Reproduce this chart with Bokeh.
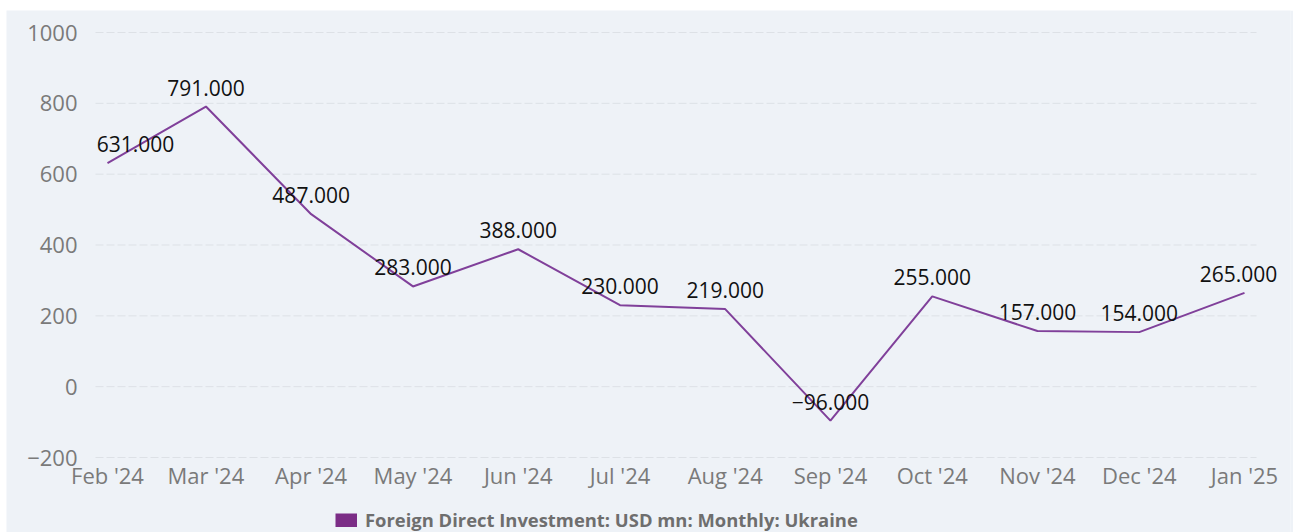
import pandas as pd
from bokeh.plotting import figure
from bokeh.layouts import column, row
from bokeh.models import ColumnDataSource, FixedTicker, Legend, LegendItem, Range1d, Spacer
from bokeh.core.properties import value
from bokeh.embed import file_html
from bokeh.resources import INLINE

months = ["Feb '24", "Mar '24", "Apr '24", "May '24", "Jun '24", "Jul '24",
          "Aug '24", "Sep '24", "Oct '24", "Nov '24", "Dec '24", "Jan '25"]
month_dates = ["2024-02-01", "2024-03-01", "2024-04-01", "2024-05-01", "2024-06-01", "2024-07-01",
               "2024-08-01", "2024-09-01", "2024-10-01", "2024-11-01", "2024-12-01", "2025-01-01"]
fdi = [631, 791, 487, 283, 388, 230, 219, -96, 255, 157, 154, 265]
y_ticks = [-200, 0, 200, 400, 600, 800, 1000]
series_name = "Foreign Direct Investment: USD mn: Monthly: Ukraine"

BG = "#EEF2F7"
LINE = "#80409A"
TICK = "#7a7a7a"

# time axis in days since the first month (months have unequal lengths)
d = pd.to_datetime(month_dates)
xs = [int((t - d[0]).days) for t in d]
labels = [f"{v:.3f}".replace("-", "\u2212") for v in fdi]
# label nudges (styling only): keep edge labels inside chart
x_off = [0] * len(fdi)
x_off[0] = 28
x_off[-1] = -6

src = ColumnDataSource(dict(x=xs, y=fdi, label=labels, xoff=x_off))

y_min, y_max = min(y_ticks), max(y_ticks)
ppd = (1244 - 107) / xs[-1]          # pixels per day
pad = 12 / ppd                        # plot-area padding around first/last point
x_start = xs[0] - 101 / ppd           # frame extends left so axis labels are not clipped
x_end = xs[-1] + 46 / ppd
ppu = 425 / (y_max - y_min)          # pixels per value unit
y_floor = y_min - 75 / ppu            # frame extends below the axis for the legend
y_ceil = y_max + 22 / ppu             # and above the top tick for its label

p = figure(width=1287, height=522, output_backend="svg", toolbar_location=None,
           x_range=Range1d(x_start, x_end),
           y_range=Range1d(y_floor, y_ceil),
           min_border_left=0, min_border_right=3, min_border_top=0, min_border_bottom=0)
p.background_fill_color = BG
p.border_fill_color = BG
p.outline_line_color = None

p.xgrid.visible = False
p.ygrid.visible = False
# horizontal grid lines limited to the plot area
gx0, gx1 = xs[0] - pad, xs[-1] + pad
p.segment(x0=[gx0] * len(y_ticks), x1=[gx1] * len(y_ticks), y0=y_ticks, y1=y_ticks,
          line_color="#dde1e6", line_dash="8 3", line_width=1)

p.yaxis.ticker = FixedTicker(ticks=y_ticks)
p.yaxis.major_label_overrides = {t: (str(t).replace("-", "\u2212")) for t in y_ticks}
p.yaxis.fixed_location = gx0
p.xaxis.ticker = FixedTicker(ticks=xs)
p.xaxis.major_label_overrides = {x: m for x, m in zip(xs, months)}
p.xaxis.fixed_location = y_min

for ax in (p.xaxis[0], p.yaxis[0]):
    ax.axis_line_color = None
    ax.major_tick_line_color = None
    ax.minor_tick_line_color = None
    ax.major_label_text_font = "Open Sans"
    ax.major_label_text_font_size = "22px"
    ax.major_label_text_color = TICK
p.xaxis.major_label_standoff = -4
p.yaxis.major_label_standoff = 12

line = p.line("x", "y", source=src, line_color=LINE, line_width=2)

p.text("x", "y", text="label", source=src, x_offset="xoff", y_offset=-19,
       text_align="center", text_baseline="middle",
       text_font=value("Open Sans"), text_font_size="21px", text_color="#111111")

# legend swatch: hidden renderer drawn only as a square in the legend
swatch = p.line("x", "y", source=src, line_color="#7B2D86", line_width=14, visible=False)

legend = Legend(items=[LegendItem(label=series_name, renderers=[swatch])],
                location=(329, 0), orientation="horizontal",
                padding=0, margin=0, spacing=0,
                border_line_color=None, background_fill_alpha=0,
                inactive_fill_alpha=0,
                glyph_width=22, glyph_height=14, label_standoff=8,
                label_text_font="Open Sans", label_text_font_size="18.4px",
                label_text_font_style="bold", label_text_color="#6e6e6e")
p.add_layout(legend, "center")

layout = column(Spacer(height=10), row(Spacer(width=6), p, spacing=0), spacing=0)

open("out.html", "w").write(file_html(layout, INLINE))
